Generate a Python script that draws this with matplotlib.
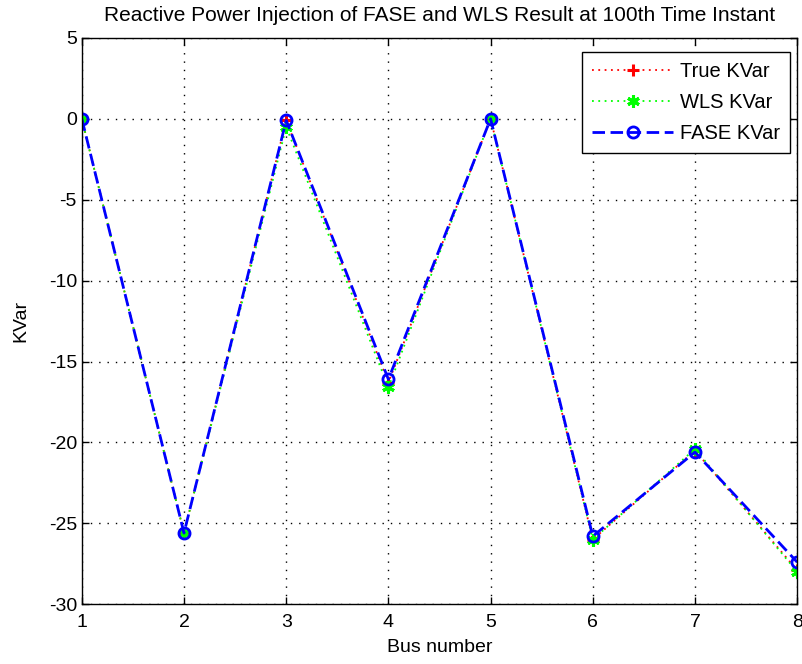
import matplotlib
matplotlib.use('Agg')
from matplotlib import pyplot as plt
import numpy as np

plt.rcParams['font.family'] = ['Liberation Sans', 'DejaVu Sans']
plt.rcParams['axes.unicode_minus'] = False

bus = [1, 2, 3, 4, 5, 6, 7, 8]
true_kvar = [0, -25.6, -0.1, -16.3, 0, -26.0, -20.5, -27.9]
wls_kvar = [0, -25.6, -0.5, -16.6, 0, -26.0, -20.4, -28.0]
fase_kvar = [0, -25.6, -0.1, -16.1, 0, -25.8, -20.6, -27.4]

fig = plt.figure(figsize=(8.02, 6.64), dpi=100)
ax = fig.add_axes([0.102, 0.090, 0.892, 0.853])

ax.plot(bus, true_kvar, color='red', ls=(0, (1, 2.5)), lw=1.3, marker='+', ms=9, mew=2.2,
        label='True KVar')
ax.plot(bus, wls_kvar, color='#00ff00', ls=(0, (1, 2.5)), lw=1.3, marker=(6, 2, 0), ms=9, mew=2.2,
        label='WLS KVar')
ax.plot(bus, fase_kvar, color='blue', ls='--', dashes=(4.5, 2), lw=2, marker='o', ms=8, mew=2,
        mfc='none', label='FASE KVar')

ax.set_xlim(1, 8)
ax.set_ylim(-30, 5)
ax.set_xticks(bus)
ax.set_yticks(np.arange(-30, 6, 5))
ax.tick_params(direction='in', labelsize=14, top=True, right=True, length=5, width=1)
ax.tick_params(axis='x', pad=7)
ax.grid(True, color='black', linestyle=(0, (1, 5)), linewidth=1)
for s in ax.spines.values():
    s.set_linewidth(1)

ax.set_xlabel('Bus number', fontsize=14, labelpad=6)
ax.set_ylabel('KVar', fontsize=14, labelpad=14)
ax.set_title('Reactive Power Injection of FASE and WLS Result at 100th Time Instant',
             fontsize=15, pad=12)

leg = ax.legend(loc='upper right', bbox_to_anchor=(0.990, 0.975), borderaxespad=0,
                fontsize=14.5, fancybox=False, edgecolor='black', framealpha=1,
                handlelength=4.0, handletextpad=0.35, borderpad=0.5, labelspacing=0.6)
leg.get_frame().set_linewidth(1)

fig.savefig('out.png', dpi=100)
